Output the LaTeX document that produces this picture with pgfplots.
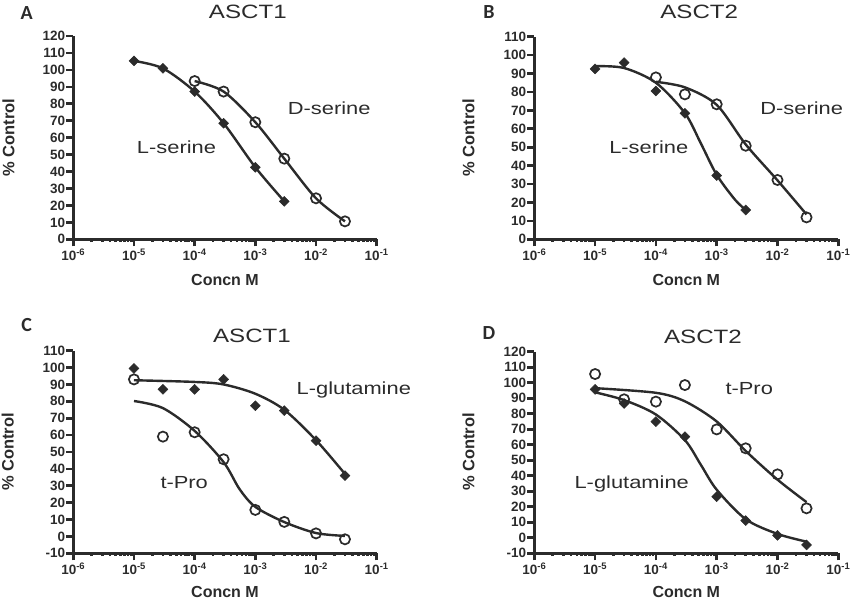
\documentclass[border=0pt]{standalone}
\usepackage{pgfplots}
\pgfplotsset{compat=1.18}
\usepackage{fontspec}
\setmainfont{Liberation Sans}
\newfontfamily\widefont{Liberation Sans}[FakeStretch=1.25]
\newfontfamily\letterfont{Carlito}
\definecolor{ink}{HTML}{2B2B2B}

\pgfplotsset{
  doseaxis/.style={
    scale only axis, anchor=south west,
    xmin=1e-6, xmax=1e-1,
    xtick={1e-6,1e-5,1e-4,1e-3,1e-2,1e-1},
    xticklabels={10\textsuperscript{-6},10\textsuperscript{-5},10\textsuperscript{-4},10\textsuperscript{-3},10\textsuperscript{-2},10\textsuperscript{-1}},
    minor x tick num=0,
    ytick distance=10,
    axis lines=left,
    axis line style={-, line width=2.6pt, draw=ink},
    tick style={line width=2.6pt, draw=ink},
    tick align=outside, major tick length=7pt,
    tick label style={font=\bfseries\fontsize{13.5}{14}\selectfont, text=ink},
    yticklabel style={inner sep=1pt},
    xticklabel style={inner sep=2pt},
    /pgf/number format/assume math mode=true,
    clip=false,
  },
  fitline/.style={smooth, no marks, line width=2.4pt, draw=ink},
  diamk/.style={only marks, mark=square*, mark size=3.5pt,
    mark options={rotate=45, fill=ink, draw=ink, line width=0.5pt}},
  circmk/.style={only marks, mark=o, mark size=5.1pt,
    mark options={draw=ink, line width=1.7pt}},
}

\begin{document}
\begin{tikzpicture}
\useasboundingbox (0pt,0pt) rectangle (850pt,600pt);

% ---------- A : ASCT1, serine ----------
\begin{semilogxaxis}[doseaxis, at={(73.3pt,360.7pt)}, width=303.4pt, height=203.3pt,
  ymin=0, ymax=120]
  \addplot[fitline] coordinates {(1e-5,105.3) (3e-5,100.9) (1e-4,87.2) (3e-4,68.5) (1e-3,42.5) (3e-3,22.4)};
  \addplot[fitline] coordinates {(1e-4,93.4) (3e-4,87.2) (1e-3,69.1) (3e-3,47.6) (1e-2,24.2) (3e-2,10.6)};
  \addplot[diamk] coordinates {(1e-5,105.3) (3e-5,100.9) (1e-4,87.2) (3e-4,68.5) (1e-3,42.5) (3e-3,22.4)};
  \addplot[circmk] coordinates {(1e-4,93.4) (3e-4,87.2) (1e-3,69.1) (3e-3,47.6) (1e-2,24.2) (3e-2,10.6)};
\end{semilogxaxis}

% ---------- B : ASCT2, serine ----------
\begin{semilogxaxis}[doseaxis, at={(534.3pt,360.7pt)}, width=304pt, height=202.6pt,
  ymin=0, ymax=110]
  \addplot[fitline] coordinates {(1e-5,94) (3e-5,93) (1e-4,85) (3e-4,68.5) (5.5e-4,52) (1e-3,35) (2e-3,21.5) (3e-3,16)};
  \addplot[fitline] coordinates {(1e-4,85.5) (3e-4,82.5) (1e-3,73) (3e-3,51.5) (1e-2,32) (3e-2,13.5)};
  \addplot[diamk] coordinates {(1e-5,92.5) (3e-5,95.9) (1e-4,80.5) (3e-4,68.4) (1e-3,34.6) (3e-3,15.9)};
  \addplot[circmk] coordinates {(1e-4,87.9) (3e-4,78.7) (1e-3,73.3) (3e-3,50.8) (1e-2,32.2) (3e-2,11.9)};
\end{semilogxaxis}

% ---------- C : ASCT1, glutamine / t-Pro ----------
\begin{semilogxaxis}[doseaxis, at={(73.3pt,46.7pt)}, width=303.4pt, height=202.6pt,
  ymin=-10, ymax=110]
  \addplot[fitline] coordinates {(1e-5,92.5) (1e-4,91.5) (3e-4,90) (1e-3,84.5) (3e-3,75) (1e-2,57) (3e-2,37)};
  \addplot[fitline] coordinates {(1e-5,80.2) (3e-5,76) (1e-4,62.5) (3e-4,44) (5.5e-4,28) (1e-3,17.5) (3e-3,8.5) (1e-2,2) (3e-2,0.3)};
  \addplot[diamk] coordinates {(1e-5,99.5) (3e-5,87.1) (1e-4,87.1) (3e-4,93.0) (1e-3,77.4) (3e-3,74.5) (1e-2,56.7) (3e-2,36.0)};
  \addplot[circmk] coordinates {(1e-5,93.0) (3e-5,59.1) (1e-4,61.7) (3e-4,45.7) (1e-3,15.7) (3e-3,8.6) (1e-2,1.8) (3e-2,-1.7)};
\end{semilogxaxis}

% ---------- D : ASCT2, glutamine / t-Pro ----------
\begin{semilogxaxis}[doseaxis, at={(534.3pt,46.7pt)}, width=304pt, height=201.6pt,
  ymin=-10, ymax=120]
  \addplot[fitline] coordinates {(1e-5,96.5) (1e-4,93.5) (3e-4,88) (1e-3,75) (3e-3,56) (1e-2,37.5) (3e-2,23)};
  \addplot[fitline] coordinates {(1e-5,93.8) (3e-5,88.8) (1e-4,79.5) (3e-4,63) (5.5e-4,47) (1e-3,31) (3e-3,12) (1e-2,2.5) (3e-2,-2.5)};
  \addplot[circmk] coordinates {(1e-5,105.6) (3e-5,89.3) (1e-4,87.8) (3e-4,98.5) (1e-3,69.9) (3e-3,57.7) (1e-2,40.9) (3e-2,19.0)};
  \addplot[diamk] coordinates {(1e-5,95.7) (3e-5,86.6) (1e-4,74.9) (3e-4,65.2) (1e-3,26.5) (3e-3,11.1) (1e-2,1.6) (3e-2,-4.6)};
\end{semilogxaxis}

% panel letters and titles
\begin{scope}[x=1pt, y=1pt, every node/.style={inner sep=0pt, text=ink}]
  \node[font=\letterfont\bfseries\fontsize{20}{22}\selectfont] at (26.7,586.7) {A};
  \node[font=\letterfont\bfseries\fontsize{20}{22}\selectfont] at (489,588.3) {B};
  \node[font=\letterfont\bfseries\fontsize{20}{22}\selectfont] at (26.7,275) {C};
  \node[font=\letterfont\bfseries\fontsize{20}{22}\selectfont] at (489,267) {D};
  \node[font=\widefont\fontsize{19.3}{21}\selectfont] at (247.8,588.3) {ASCT1};
  \node[font=\widefont\fontsize{19.3}{21}\selectfont] at (699.2,588.3) {ASCT2};
  \node[font=\widefont\fontsize{19.3}{21}\selectfont] at (252,264) {ASCT1};
  \node[font=\widefont\fontsize{19.3}{21}\selectfont] at (703,263) {ASCT2};
  % curve labels
  \node[anchor=base, font=\widefont\fontsize{17.5}{19}\selectfont] at (176.5,446.7) {L-serine};
  \node[anchor=base, font=\widefont\fontsize{17.5}{19}\selectfont] at (329.2,485) {D-serine};
  \node[anchor=base, font=\widefont\fontsize{17.5}{19}\selectfont] at (648.8,446.7) {L-serine};
  \node[anchor=base, font=\widefont\fontsize{17.5}{19}\selectfont] at (801.7,485) {D-serine};
  \node[anchor=base, font=\widefont\fontsize{17.5}{19}\selectfont] at (353.8,206) {L-glutamine};
  \node[anchor=base, font=\widefont\fontsize{17.5}{19}\selectfont] at (184.2,111.7) {t-Pro};
  \node[anchor=base, font=\widefont\fontsize{17.5}{19}\selectfont] at (749.2,205.7) {t-Pro};
  \node[anchor=base, font=\widefont\fontsize{17.5}{19}\selectfont] at (631.7,111.7) {L-glutamine};
  % axis titles
  \foreach \cx/\by in {225/314, 686.3/314, 225/2.2, 686.3/2.2}
    \node[anchor=base, font=\bfseries\fontsize{16}{18}\selectfont] at (\cx,\by) {Concn M};
  \foreach \cx/\cy in {8.5/462.4, 468.5/462.4, 7.8/148, 468.5/148}
    \node[rotate=90, font=\bfseries\fontsize{16.5}{18}\selectfont] at (\cx,\cy) {\% Control};
\end{scope}
\end{tikzpicture}
\end{document}
